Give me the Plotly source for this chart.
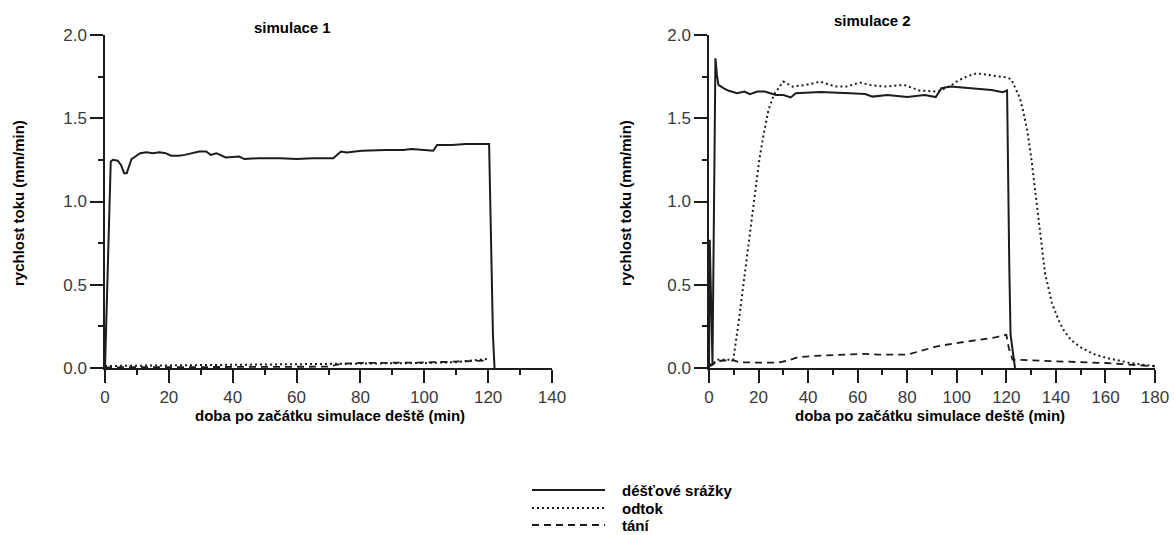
import plotly.graph_objects as go

# ---------------- data: simulace 1 ----------------
s1_rain_x = [0, 0.5, 1.1, 1.8, 2.5, 4.0, 5.0, 6.0, 6.8, 7.6, 8.3, 9.5, 11, 13, 15, 17, 19, 20.7, 23, 25, 27,
             29.5, 31.7, 33.1, 34.9, 37.8, 42, 43.7, 48, 55, 60, 65, 71.5, 73.9, 75.7, 80.4, 88, 93.4, 96,
             102.8, 104, 108.7, 113, 119.4, 120.3, 121.5, 122]
s1_rain_y = [0, 0.35, 0.85, 1.24, 1.25, 1.245, 1.22, 1.17, 1.17, 1.22, 1.255, 1.27, 1.29, 1.295, 1.29, 1.295,
             1.29, 1.275, 1.275, 1.28, 1.29, 1.30, 1.30, 1.28, 1.29, 1.265, 1.27, 1.255, 1.26, 1.26, 1.255,
             1.26, 1.26, 1.30, 1.295, 1.305, 1.31, 1.31, 1.315, 1.305, 1.34, 1.34, 1.345, 1.345, 1.345, 0.2, 0.0]

s1_odtok_x = [0, 20, 40, 60, 70, 80, 100, 110, 116, 120]
s1_odtok_y = [0.012, 0.015, 0.02, 0.022, 0.025, 0.027, 0.03, 0.035, 0.045, 0.055]

s1_tani_x = [0, 20, 40, 60, 70, 74, 80, 100, 110, 120]
s1_tani_y = [0.004, 0.004, 0.006, 0.006, 0.008, 0.025, 0.03, 0.033, 0.038, 0.045]

# ---------------- data: simulace 2 ----------------
s2_rain_x = [0, 0.3, 1.4, 2.0, 2.6, 3.2, 3.8, 6, 8, 11.3, 14.3, 16.5, 19.5, 22.5, 27, 30, 33, 35, 45, 57,
             63, 66, 72, 80, 87, 91.5, 93.8, 97.5, 105, 114, 118.5, 120.3, 121.2, 121.7, 123.5]
s2_rain_y = [0, 0.77, 0.02, 0.9, 1.86, 1.76, 1.70, 1.68, 1.665, 1.65, 1.66, 1.645, 1.66, 1.66, 1.64, 1.64,
             1.625, 1.65, 1.657, 1.65, 1.645, 1.63, 1.64, 1.627, 1.64, 1.627, 1.68, 1.69, 1.68, 1.67, 1.657,
             1.667, 0.6, 0.2, 0.0]

s2_odtok_x = [0, 2, 3.5, 6, 9.8, 12, 15, 18, 20.3, 22, 24, 26.3, 30, 33.8, 39, 45, 51, 55.5, 60.8, 65,
              70.5, 78.8, 84.8, 92.3, 97.5, 101, 105, 108, 113.3, 117, 120, 122, 124, 125.5, 127, 128.5,
              130, 131.6, 133.6, 135.6, 138.4, 141, 143, 146, 149.7, 155, 160.6, 165, 170, 175, 180]
s2_odtok_y = [0.02, 0.03, 0.05, 0.05, 0.05, 0.28, 0.63, 0.99, 1.25, 1.40, 1.55, 1.645, 1.72, 1.69, 1.70,
              1.72, 1.69, 1.69, 1.715, 1.70, 1.69, 1.70, 1.667, 1.66, 1.695, 1.73, 1.756, 1.77, 1.76, 1.75,
              1.745, 1.735, 1.67, 1.62, 1.53, 1.42, 1.27, 1.07, 0.85, 0.57, 0.39, 0.29, 0.23, 0.17, 0.127,
              0.085, 0.06, 0.045, 0.03, 0.02, 0.012]

s2_tani_x = [0, 1.5, 3, 6, 10, 12, 20, 28, 32, 36, 42, 50, 58, 63, 68, 80, 85, 92, 100, 110, 116, 120,
             121, 122.5, 130, 140, 150, 160, 170, 180]
s2_tani_y = [0.01, 0.02, 0.04, 0.045, 0.045, 0.035, 0.032, 0.033, 0.045, 0.065, 0.072, 0.075, 0.082,
             0.085, 0.08, 0.08, 0.1, 0.13, 0.15, 0.17, 0.185, 0.2, 0.12, 0.05, 0.045, 0.04, 0.035, 0.03,
             0.02, 0.01]

titles = ["simulace 1", "simulace 2"]
y_title = "rychlost toku (mm/min)"
x_title = "doba po začátku simulace deště (min)"
legend_labels = ["déšťové srážky", "odtok", "tání"]

# ---------------- styling ----------------
INK = "#1c1c1c"
W, H = 1174, 535
styles = [dict(color=INK, width=2.0),
          dict(color=INK, width=2.0, dash="2px,3px"),
          dict(color=INK, width=1.8, dash="7px,5px")]

fig = go.Figure()
series = [
    ("x", "y", [(s1_rain_x, s1_rain_y), (s1_odtok_x, s1_odtok_y), (s1_tani_x, s1_tani_y)]),
    ("x2", "y2", [(s2_rain_x, s2_rain_y), (s2_odtok_x, s2_odtok_y), (s2_tani_x, s2_tani_y)]),
]
for xa, ya, trs in series:
    for (xs, ys), st, name in zip(trs, styles, legend_labels):
        fig.add_trace(go.Scatter(x=xs, y=ys, mode="lines", line=st, name=name,
                                 xaxis=xa, yaxis=ya, showlegend=False))

tickfont = dict(family="Liberation Sans, Arial", size=17, color="#3a3a3a")

def xax(domain, rng, anchor):
    return dict(domain=domain, range=rng, anchor=anchor, automargin=False,
                showline=True, linecolor=INK, linewidth=1.5,
                ticks="outside", ticklen=13, tickwidth=1.5, tickcolor=INK, dtick=20, tick0=0,
                showgrid=False, zeroline=False, tickfont=tickfont,
                minor=dict(dtick=10, ticks="outside", ticklen=5, tickwidth=1.5, tickcolor=INK, showgrid=False))

def yax(domain, anchor):
    return dict(domain=domain, range=[0, 2], anchor=anchor, automargin=False,
                showline=True, linecolor=INK, linewidth=1.5,
                ticks="outside", ticklen=13, tickwidth=1.5, tickcolor=INK, dtick=0.5, tick0=0,
                tickformat=".1f", showgrid=False, zeroline=False, tickfont=tickfont,
                minor=dict(dtick=0.25, ticks="outside", ticklen=5, tickwidth=1.5, tickcolor=INK, showgrid=False))

ydom = [(H - 368) / H, (H - 35) / H]
fig.update_layout(
    width=W, height=H, margin=dict(l=0, r=0, t=0, b=0, autoexpand=False),
    paper_bgcolor="white", plot_bgcolor="white", showlegend=False,
    xaxis=xax([105 / W, 552 / W], [0, 140], "y"),
    yaxis=yax(ydom, "x"),
    xaxis2=xax([709 / W, 1155 / W], [0, 180], "y2"),
    yaxis2=yax(ydom, "x2"),
)

bold = dict(family="Liberation Sans, Arial", size=15, color="black")
ann = []
def px(x, y):
    return x / W, (H - y) / H

for t, (cx, cy) in zip(titles, [(292, 28), (872, 20)]):
    x, y = px(cx, cy)
    ann.append(dict(text="<b>%s</b>" % t, x=x, y=y, xref="paper", yref="paper", showarrow=False,
                    font=bold, xanchor="center", yanchor="middle"))
for cx in [18, 625]:
    x, y = px(cx, 203)
    ann.append(dict(text="<b>%s</b>" % y_title, x=x, y=y, xref="paper", yref="paper", showarrow=False,
                    font=bold, textangle=-90, xanchor="center", yanchor="middle"))
for cx in [330, 930]:
    x, y = px(cx, 415)
    ann.append(dict(text="<b>%s</b>" % x_title, x=x, y=y, xref="paper", yref="paper", showarrow=False,
                    font=bold, xanchor="center", yanchor="middle"))

shapes = []
for lab, st, ly in zip(legend_labels, styles, [490, 508, 525]):
    x0, y0 = px(532, ly)
    x1, _ = px(605, ly)
    shapes.append(dict(type="line", xref="paper", yref="paper", x0=x0, x1=x1, y0=y0, y1=y0, line=st))
    tx, ty = px(620, ly)
    ann.append(dict(text="<b>%s</b>" % lab, x=tx, y=ty, xref="paper", yref="paper", showarrow=False,
                    font=bold, xanchor="left", yanchor="middle"))

fig.update_layout(annotations=ann, shapes=shapes)
fig.write_html("out.html", config={"displayModeBar": False},
               post_script="document.body.style.margin='0';document.body.style.overflow='hidden';")
